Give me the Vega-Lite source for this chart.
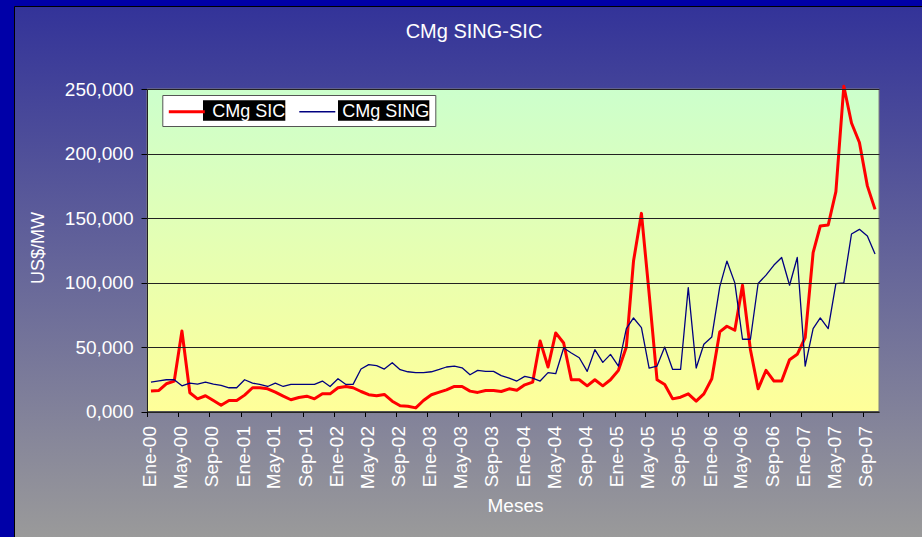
{
  "$schema": "https://vega.github.io/schema/vega-lite/v6.json",
  "width": 908,
  "height": 531,
  "autosize": {"type": "none"},
  "padding": {"left": 14, "top": 6, "right": 0, "bottom": 0},
  "background": "#0000a8",
  "config": {
    "font": "Liberation Sans",
    "view": {
      "fill": {"gradient": "linear", "x1": 0, "y1": 0, "x2": 0, "y2": 1, "stops": [{"offset": 0, "color": "#333399"}, {"offset": 1, "color": "#9a9a9a"}]},
      "stroke": "#000000",
      "strokeWidth": 1
    }
  },
  "title": {"text": "CMg SING-SIC", "color": "white", "fontSize": 20, "fontWeight": "normal", "anchor": "middle", "frame": "group", "offset": -32, "baseline": "alphabetic", "dx": 6, "dy": 20},
  "data": {"values": [
    {"mes": "2000-01-01", "CMg SIC": 15800, "CMg SING": 22800},
    {"mes": "2000-02-01", "CMg SIC": 16300, "CMg SING": 23800},
    {"mes": "2000-03-01", "CMg SIC": 21500, "CMg SING": 24600},
    {"mes": "2000-04-01", "CMg SIC": 23600, "CMg SING": 24600},
    {"mes": "2000-05-01", "CMg SIC": 62400, "CMg SING": 19900},
    {"mes": "2000-06-01", "CMg SIC": 14500, "CMg SING": 22000},
    {"mes": "2000-07-01", "CMg SIC": 9800, "CMg SING": 21200},
    {"mes": "2000-08-01", "CMg SIC": 12200, "CMg SING": 22800},
    {"mes": "2000-09-01", "CMg SIC": 8500, "CMg SING": 21200},
    {"mes": "2000-10-01", "CMg SIC": 4900, "CMg SING": 20200},
    {"mes": "2000-11-01", "CMg SIC": 8500, "CMg SING": 18400},
    {"mes": "2000-12-01", "CMg SIC": 8500, "CMg SING": 18400},
    {"mes": "2001-01-01", "CMg SIC": 12700, "CMg SING": 24600},
    {"mes": "2001-02-01", "CMg SIC": 18400, "CMg SING": 22000},
    {"mes": "2001-03-01", "CMg SIC": 18400, "CMg SING": 21000},
    {"mes": "2001-04-01", "CMg SIC": 17600, "CMg SING": 19400},
    {"mes": "2001-05-01", "CMg SIC": 15000, "CMg SING": 22000},
    {"mes": "2001-06-01", "CMg SIC": 11900, "CMg SING": 19400},
    {"mes": "2001-07-01", "CMg SIC": 9100, "CMg SING": 21000},
    {"mes": "2001-08-01", "CMg SIC": 10900, "CMg SING": 21000},
    {"mes": "2001-09-01", "CMg SIC": 11900, "CMg SING": 21000},
    {"mes": "2001-10-01", "CMg SIC": 9800, "CMg SING": 21000},
    {"mes": "2001-11-01", "CMg SIC": 13700, "CMg SING": 23600},
    {"mes": "2001-12-01", "CMg SIC": 13700, "CMg SING": 19400},
    {"mes": "2002-01-01", "CMg SIC": 18400, "CMg SING": 25400},
    {"mes": "2002-02-01", "CMg SIC": 19400, "CMg SING": 21000},
    {"mes": "2002-03-01", "CMg SIC": 18400, "CMg SING": 21000},
    {"mes": "2002-04-01", "CMg SIC": 15500, "CMg SING": 32900},
    {"mes": "2002-05-01", "CMg SIC": 13000, "CMg SING": 36300},
    {"mes": "2002-06-01", "CMg SIC": 12200, "CMg SING": 35500},
    {"mes": "2002-07-01", "CMg SIC": 13200, "CMg SING": 32900},
    {"mes": "2002-08-01", "CMg SIC": 8000, "CMg SING": 37800},
    {"mes": "2002-09-01", "CMg SIC": 4400, "CMg SING": 32400},
    {"mes": "2002-10-01", "CMg SIC": 4100, "CMg SING": 30800},
    {"mes": "2002-11-01", "CMg SIC": 2800, "CMg SING": 30100},
    {"mes": "2002-12-01", "CMg SIC": 8500, "CMg SING": 30100},
    {"mes": "2003-01-01", "CMg SIC": 13000, "CMg SING": 30800},
    {"mes": "2003-02-01", "CMg SIC": 15000, "CMg SING": 32600},
    {"mes": "2003-03-01", "CMg SIC": 16800, "CMg SING": 34500},
    {"mes": "2003-04-01", "CMg SIC": 19400, "CMg SING": 35200},
    {"mes": "2003-05-01", "CMg SIC": 19400, "CMg SING": 33900},
    {"mes": "2003-06-01", "CMg SIC": 15800, "CMg SING": 28500},
    {"mes": "2003-07-01", "CMg SIC": 14800, "CMg SING": 31900},
    {"mes": "2003-08-01", "CMg SIC": 16300, "CMg SING": 31100},
    {"mes": "2003-09-01", "CMg SIC": 16300, "CMg SING": 31100},
    {"mes": "2003-10-01", "CMg SIC": 15500, "CMg SING": 27800},
    {"mes": "2003-11-01", "CMg SIC": 17600, "CMg SING": 25900},
    {"mes": "2003-12-01", "CMg SIC": 16500, "CMg SING": 23600},
    {"mes": "2004-01-01", "CMg SIC": 20700, "CMg SING": 27200},
    {"mes": "2004-02-01", "CMg SIC": 22800, "CMg SING": 25900},
    {"mes": "2004-03-01", "CMg SIC": 54700, "CMg SING": 23600},
    {"mes": "2004-04-01", "CMg SIC": 34500, "CMg SING": 30100},
    {"mes": "2004-05-01", "CMg SIC": 60900, "CMg SING": 29300},
    {"mes": "2004-06-01", "CMg SIC": 53100, "CMg SING": 49200},
    {"mes": "2004-07-01", "CMg SIC": 24600, "CMg SING": 45300},
    {"mes": "2004-08-01", "CMg SIC": 24600, "CMg SING": 41700},
    {"mes": "2004-09-01", "CMg SIC": 19900, "CMg SING": 31100},
    {"mes": "2004-10-01", "CMg SIC": 24600, "CMg SING": 47900},
    {"mes": "2004-11-01", "CMg SIC": 19900, "CMg SING": 38100},
    {"mes": "2004-12-01", "CMg SIC": 24600, "CMg SING": 44300},
    {"mes": "2005-01-01", "CMg SIC": 31900, "CMg SING": 35200},
    {"mes": "2005-02-01", "CMg SIC": 50000, "CMg SING": 64200},
    {"mes": "2005-03-01", "CMg SIC": 116600, "CMg SING": 72500},
    {"mes": "2005-04-01", "CMg SIC": 153600, "CMg SING": 65000},
    {"mes": "2005-05-01", "CMg SIC": 91500, "CMg SING": 33700},
    {"mes": "2005-06-01", "CMg SIC": 24600, "CMg SING": 35200},
    {"mes": "2005-07-01", "CMg SIC": 21000, "CMg SING": 50000},
    {"mes": "2005-08-01", "CMg SIC": 9800, "CMg SING": 32600},
    {"mes": "2005-09-01", "CMg SIC": 11100, "CMg SING": 32600},
    {"mes": "2005-10-01", "CMg SIC": 13700, "CMg SING": 96100},
    {"mes": "2005-11-01", "CMg SIC": 8000, "CMg SING": 33700},
    {"mes": "2005-12-01", "CMg SIC": 13700, "CMg SING": 52100},
    {"mes": "2006-01-01", "CMg SIC": 25400, "CMg SING": 57800},
    {"mes": "2006-02-01", "CMg SIC": 61700, "CMg SING": 96600},
    {"mes": "2006-03-01", "CMg SIC": 66100, "CMg SING": 116600},
    {"mes": "2006-04-01", "CMg SIC": 63000, "CMg SING": 99700},
    {"mes": "2006-05-01", "CMg SIC": 97900, "CMg SING": 56000},
    {"mes": "2006-06-01", "CMg SIC": 47900, "CMg SING": 56000},
    {"mes": "2006-07-01", "CMg SIC": 17600, "CMg SING": 99200},
    {"mes": "2006-08-01", "CMg SIC": 31900, "CMg SING": 105700},
    {"mes": "2006-09-01", "CMg SIC": 23600, "CMg SING": 113500},
    {"mes": "2006-10-01", "CMg SIC": 23600, "CMg SING": 119400},
    {"mes": "2006-11-01", "CMg SIC": 40200, "CMg SING": 97900},
    {"mes": "2006-12-01", "CMg SIC": 44300, "CMg SING": 119400},
    {"mes": "2007-01-01", "CMg SIC": 57300, "CMg SING": 35200},
    {"mes": "2007-02-01", "CMg SIC": 123100, "CMg SING": 64200},
    {"mes": "2007-03-01", "CMg SIC": 143800, "CMg SING": 72500},
    {"mes": "2007-04-01", "CMg SIC": 144600, "CMg SING": 64200},
    {"mes": "2007-05-01", "CMg SIC": 170500, "CMg SING": 99200},
    {"mes": "2007-06-01", "CMg SIC": 252100, "CMg SING": 99700},
    {"mes": "2007-07-01", "CMg SIC": 223600, "CMg SING": 137600},
    {"mes": "2007-08-01", "CMg SIC": 208500, "CMg SING": 141200},
    {"mes": "2007-09-01", "CMg SIC": 174900, "CMg SING": 136000},
    {"mes": "2007-10-01", "CMg SIC": 156700, "CMg SING": 122000}
  ]},
  "layer": [
    {
      "data": {"values": [{}]},
      "mark": {
        "type": "rect",
        "fill": {"gradient": "linear", "x1": 0, "y1": 0, "x2": 0, "y2": 1, "stops": [{"offset": 0, "color": "#ccffcc"}, {"offset": 1, "color": "#ffff99"}]},
        "stroke": "#808080",
        "strokeWidth": 1
      },
      "encoding": {
        "x": {
          "datum": {"year": 1999, "month": 12, "date": 16, "hours": 12, "utc": true},
          "type": "temporal",
          "scale": {"type": "utc", "domain": [{"year": 1999, "month": 12, "date": 16, "hours": 12, "utc": true}, {"year": 2007, "month": 10, "date": 16, "hours": 12, "utc": true}], "range": [133, 865], "nice": false},
          "axis": {
            "title": "Meses",
            "tickCount": {"interval": "month", "step": 4},
            "labelExpr": "['Ene','Feb','Mar','Abr','May','Jun','Jul','Ago','Sep','Oct','Nov','Dic'][utcmonth(datum.value)] + '-' + utcFormat(datum.value, '%y')",
            "labelAngle": 270,
            "labelAlign": "right",
            "labelBaseline": "middle",
            "labelColor": "white",
            "labelFontSize": 19,
            "labelPadding": 9,
            "labelOverlap": false,
            "labelFlush": false,
            "tickSize": 5,
            "tickColor": "#000000",
            "tickOffset": -3.9,
            "labelOffset": 2.3,
            "domainColor": "#222222",
            "grid": false,
            "offset": -125.5,
            "titleColor": "white",
            "titleFontSize": 19,
            "titleFontWeight": "normal",
            "titleX": 501,
            "titleY": 100,
            "titleBaseline": "alphabetic",
            "titleAlign": "center",
            "zindex": 1
          }
        },
        "x2": {"datum": {"year": 2007, "month": 10, "date": 16, "hours": 12, "utc": true}},
        "y": {
          "datum": 0,
          "type": "quantitative",
          "scale": {"domain": [0, 250000], "range": [405.5, 83], "nice": false, "zero": true},
          "axis": {
            "title": "US$/MW",
            "values": [0, 50000, 100000, 150000, 200000, 250000],
            "labelExpr": "datum.value == 0 ? '0,000' : format(datum.value, ',')",
            "labelColor": "white",
            "labelFontSize": 19,
            "labelPadding": 8,
            "tickSize": 6,
            "tickColor": "#000000",
            "domainColor": "#222222",
            "grid": true,
            "gridColor": "#222222",
            "gridWidth": 1,
            "offset": -133,
            "titleColor": "white",
            "titleFontSize": 18,
            "titleFontWeight": "normal",
            "titleAngle": 270,
            "titleX": -100,
            "titleY": 241.5,
            "titleBaseline": "bottom",
            "titleAlign": "center",
            "zindex": 1
          }
        },
        "y2": {"datum": 250000}
      }
    },
    {
      "transform": [{"fold": ["CMg SIC", "CMg SING"], "as": ["serie", "valor"]}],
      "mark": {"type": "line", "strokeJoin": "round"},
      "encoding": {
        "x": {"field": "mes", "type": "temporal", "title": "Meses"},
        "y": {"field": "valor", "type": "quantitative", "title": "US$/MW"},
        "color": {
          "field": "serie",
          "type": "nominal",
          "scale": {"domain": ["CMg SIC", "CMg SING"], "range": ["#ff0000", "#000080"]},
          "legend": {
            "orient": "none", "legendX": 148.3, "legendY": 89, "direction": "horizontal", "title": null,
            "fillColor": "white", "strokeColor": "#555555", "padding": 5,
            "symbolType": "stroke", "symbolSize": 1296,
            "labelFontSize": 18, "labelColor": "white", "labelOffset": 6, "columnPadding": 10, "labelLimit": 300,
            "encode": {
              "entries": {"update": {
                "fill": {"signal": "datum.value === 'CMg SIC' ? {gradient: 'linear', x1: 0, y1: 0, x2: 1, y2: 0, stops: [{offset: 0, color: 'white'}, {offset: 0.342, color: 'white'}, {offset: 0.342, color: 'black'}, {offset: 1, color: 'black'}]} : {gradient: 'linear', x1: 0, y1: 0, x2: 1, y2: 0, stops: [{offset: 0, color: 'white'}, {offset: 0.305, color: 'white'}, {offset: 0.305, color: 'black'}, {offset: 1, color: 'black'}]}"},
                "width": {"signal": "datum.value === 'CMg SIC' ? 117 : 131"},
                "height": {"value": 23}
              }},
              "symbols": {"update": {"y": {"value": 11.5}}},
              "labels": {"update": {"y": {"value": 11.5}}}
            }
          }
        },
        "strokeWidth": {
          "field": "serie",
          "type": "nominal",
          "scale": {"domain": ["CMg SIC", "CMg SING"], "range": [3, 1.3]},
          "legend": {
            "orient": "none", "legendX": 148.3, "legendY": 89, "direction": "horizontal", "title": null,
            "fillColor": "white", "strokeColor": "#555555", "padding": 5,
            "symbolType": "stroke", "symbolSize": 1296,
            "labelFontSize": 18, "labelColor": "white", "labelOffset": 6, "columnPadding": 10, "labelLimit": 300,
            "encode": {
              "entries": {"update": {
                "fill": {"signal": "datum.value === 'CMg SIC' ? {gradient: 'linear', x1: 0, y1: 0, x2: 1, y2: 0, stops: [{offset: 0, color: 'white'}, {offset: 0.342, color: 'white'}, {offset: 0.342, color: 'black'}, {offset: 1, color: 'black'}]} : {gradient: 'linear', x1: 0, y1: 0, x2: 1, y2: 0, stops: [{offset: 0, color: 'white'}, {offset: 0.305, color: 'white'}, {offset: 0.305, color: 'black'}, {offset: 1, color: 'black'}]}"},
                "width": {"signal": "datum.value === 'CMg SIC' ? 117 : 131"},
                "height": {"value": 23}
              }},
              "symbols": {"update": {"y": {"value": 11.5}}},
              "labels": {"update": {"y": {"value": 11.5}}}
            }
          }
        }
      }
    }
  ]
}
